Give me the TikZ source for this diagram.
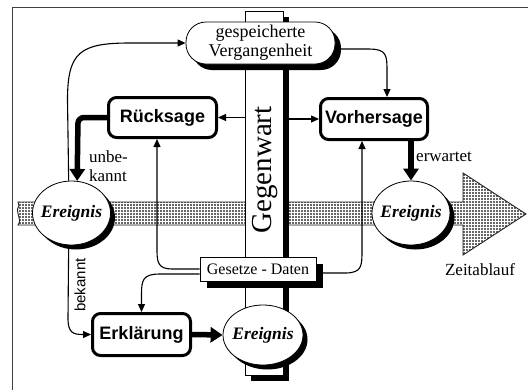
\documentclass[tikz,border=0pt]{standalone}
\usepackage{fontspec}
\setmainfont{Liberation Serif}
\setsansfont{Liberation Sans}
\usetikzlibrary{arrows.meta,shadows,patterns,shapes.geometric}
\begin{document}
\begin{tikzpicture}[x=1pt,y=-1pt,
  sh/.style={drop shadow={shadow xshift=#1pt,shadow yshift=-#1pt,fill=black,opacity=1}},
  conn/.style={line width=1.1pt,-{Triangle[length=8pt,width=7pt]}},
  fat/.style={line width=5.5pt,-{Triangle[length=12pt,width=15pt]}},
  proc/.style={draw,line width=3pt,rounded corners=8pt,fill=white,inner sep=0pt,font=\sffamily\bfseries\fontsize{18}{20}\selectfont},
  ev/.style={draw,ellipse,line width=0.8pt,fill=white,sh=4.5,inner sep=0pt,font=\bfseries\itshape\fontsize{17.5}{20}\selectfont},
  plain/.style={draw,line width=0.8pt,fill=white,inner sep=0pt},
  lbl/.style={font=\fontsize{17}{19}\selectfont,inner sep=0pt}]

\useasboundingbox (0,0) rectangle (528,389);
\draw[black!75,line width=1pt] (12,395) -- (12,7) -- (535,7);

% time band
\draw[black!85,line width=0.9pt,preaction={fill=black!60},preaction={pattern=grid,pattern color=white}]
  (18,202) -- (463,202) -- (463,173) -- (526,214) -- (463,255) -- (463,225) -- (18,225)
  .. controls (23,219) and (14,212) .. (19,206) -- cycle;

% present bar
\node[plain,sh=6,minimum width=38pt,minimum height=364pt] (bar) at (264,193) {};
\node[rotate=90,inner sep=0pt,font=\fontsize{29}{30}\selectfont] (gw) at (265,170) {Gegenwart};

\node[plain,sh=6,rounded corners=20pt,minimum width=149pt,minimum height=42pt,align=center,font=\fontsize{18}{19}\selectfont] (gesp) at (260.5,43) {gespeicherte\\Vergangenheit};
\node[plain,sh=7,minimum width=116pt,minimum height=24pt,font=\fontsize{16}{18}\selectfont] (ges) at (258,269) {Gesetze - Daten};

\node[ev,minimum width=78pt,minimum height=64pt] (eL) at (71.5,213) {\makebox[0pt]{Ereignis}};
\node[ev,minimum width=78pt,minimum height=64pt] (eR) at (411,213) {\makebox[0pt]{Ereignis}};
\node[ev,minimum width=80pt,minimum height=60pt] (eB) at (263,335) {\makebox[0pt]{Ereignis}};

\node[proc,minimum width=108pt,minimum height=40pt] (ruck) at (162.5,117.5) {Rücksage};
\node[proc,minimum width=107pt,minimum height=41pt] (vorh) at (374,119) {Vorhersage};
\node[proc,minimum width=98pt,minimum height=42pt] (erkl) at (141.5,334.5) {Erklärung};

% labels
\node[lbl,align=left,anchor=west] (lu) at (89,166) {unbe-\\kannt};
\node[lbl,anchor=west] (le) at (416,157) {erwartet};
\node[lbl,rotate=90,font=\sffamily\fontsize{15}{17}\selectfont] (lb) at (80,285) {bekannt};
\node[lbl] (lz) at (480,270) {Zeitablauf};

% connectors
\draw[conn] (eL.95) -- (67.5,100) .. controls (67.5,52) and (80,43) .. (130,43) -- (gesp.west);
\draw[conn] ([yshift=-6pt]gesp.east) -- (368,49) .. controls (387,49) and (387,55) .. (387,72) -- ([xshift=13pt]vorh.north);
\draw[conn] (ruck.east -| bar.west) -- (ruck.east);
\draw[conn] (vorh.west -| bar.east) -- (vorh.west);
\draw[fat,rounded corners=6pt] (ruck.west) -- (78,117.5) -- (eL.80);
\draw[fat] (eR.north |- vorh.south) -- (eR.north);
\draw[conn] (ges.west) -- (172,269) .. controls (158,269) and (157,262) .. (157,250) -- ([xshift=-5.5pt]ruck.south);
\draw[conn] ([yshift=-5pt]ges.west) -- (160,274) .. controls (143,274) and (141.5,280) .. (141.5,294) -- (erkl.north);
\draw[conn] ([yshift=-4pt]ges.east) -- (345,273) .. controls (362,273) and (362,266) .. (362,250) -- ([xshift=-12pt]vorh.south);
\draw[conn] (eL.265) -- (68,318) .. controls (68,333) and (73,334.5) .. (erkl.west);
\draw[fat] (erkl.east) -- (eB.west);
\end{tikzpicture}
\end{document}
